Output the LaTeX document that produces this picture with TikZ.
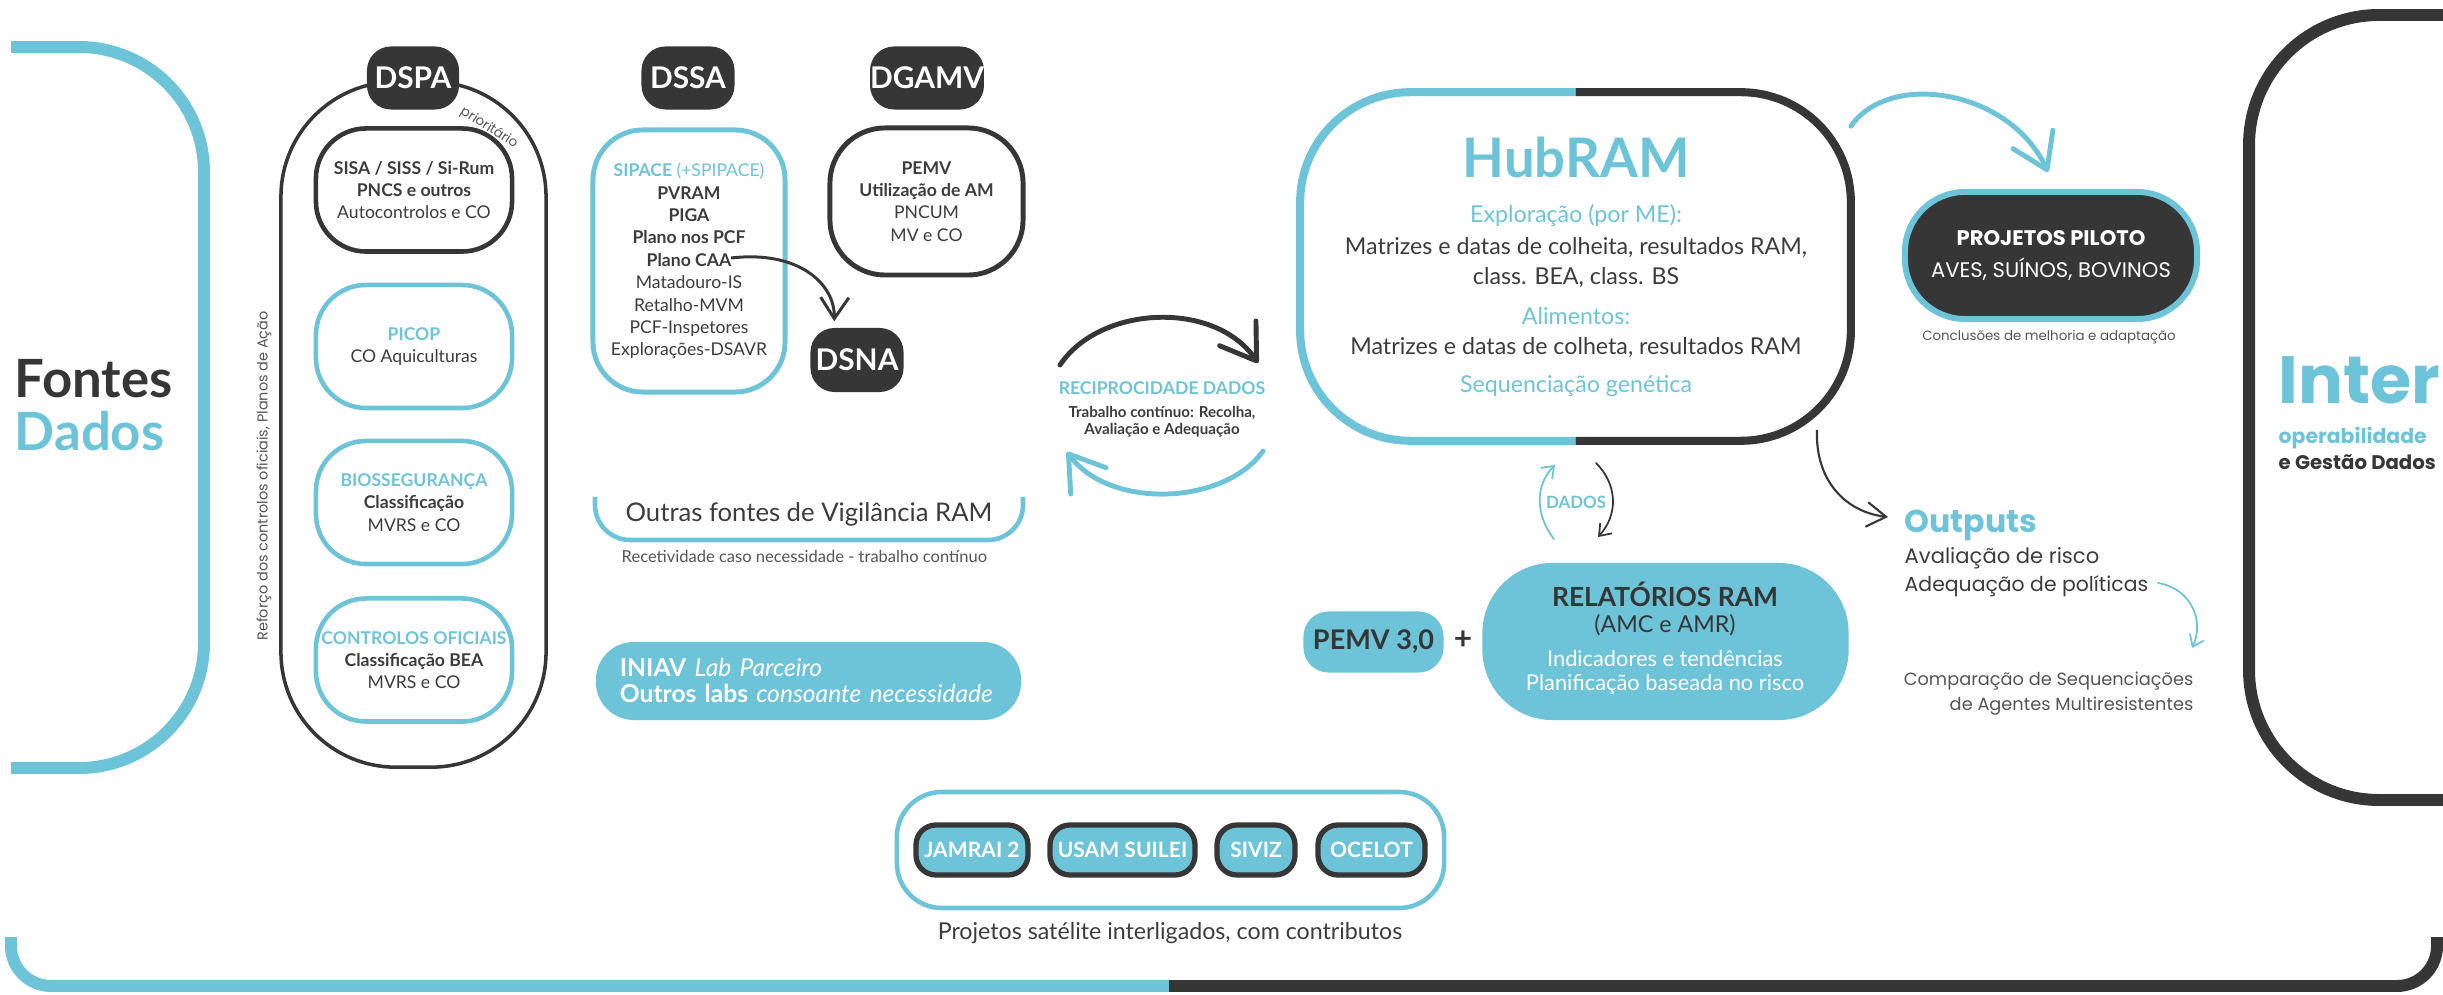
\documentclass[tikz,border=0pt]{standalone}
\usepackage{fontspec}
\setmainfont{Lato}
\newfontfamily\popfont{Poppins}
\usetikzlibrary{arrows.meta}

\definecolor{ramblue}{HTML}{6DC4D8}
\definecolor{ramdark}{HTML}{363636}
\definecolor{ramtext}{HTML}{3C3C3C}
\definecolor{ramgray}{HTML}{555555}

\newcommand\fsz[2]{\fontsize{#1}{#2}\selectfont}

\tikzset{
	headtag/.style={fill=ramdark, text=white, rounded corners=0.24cm, minimum height=0.63cm, inner sep=0pt, font=\bfseries\fsz{8.5}{10}},
	dspabox/.style={draw=ramdark, line width=1.3pt, rounded corners=0.5cm, minimum width=1.96cm, minimum height=1.23cm, inner sep=0pt, align=center, text=ramtext, font=\fsz{5}{6.3}},
	bluebox/.style={dspabox, draw=ramblue},
	pill/.style={fill=ramblue, draw=ramdark, line width=1.5pt, rounded corners=0.2cm, minimum height=0.5cm, inner sep=0pt, text=white, font=\bfseries\fsz{6}{7}},
	txt/.style={inner sep=0pt},
	bigarrow/.style={line width=1.4pt, line cap=round, -{Straight Barb[length=9.5pt,width=12.5pt,round]}},
	thinarrow/.style={line width=0.5pt, line cap=round, -{Straight Barb[length=3pt,width=4.5pt]}},
	framebar/.style={line width=3.4pt}
}

\begin{document}
\begin{tikzpicture}[x=0.01cm, y=-0.01cm]
		\useasboundingbox (0,0) rectangle (2443,995);
		
		%frames
		\draw[framebar, ramblue, rounded corners=1.25cm] (11,47) -- (204,47) -- (204,768) -- (11,768);
		\draw[framebar, ramdark, rounded corners=1.3cm] (2443,15) -- (2249,15) -- (2249,800) -- (2443,800);
		\draw[framebar, ramblue, rounded corners=0.4cm] (11,937) -- (11,986) -- (1170,986);
		\draw[framebar, ramdark, rounded corners=0.4cm] (1169,986) -- (2437,986) -- (2437,937);
		
		\node[txt, anchor=base west, text=ramdark, font=\bfseries\fsz{15}{16}] (fontes) at (14,398) {Fontes};
		\node[txt, anchor=base west, text=ramblue, font=\bfseries\fsz{15}{16}] (dados) at (14,451) {Dados};
		
		%dspa
		\node[draw=ramdark, line width=1pt, rounded corners=1.15cm, minimum width=2.65cm, minimum height=6.85cm] (dspabox) at (413.5,424.5) {};
		\node[headtag, minimum width=0.92cm] (dspa) at (413,78) {DSPA};
		\node[txt, rotate=-32, text=ramgray, font=\popfont\fsz{3.8}{4}] (prio) at (489,128) {prioritário};
		\node[dspabox] (sisa) at (414,190) {\textbf{SISA / SISS / Si-Rum}\\\textbf{PNCS e outros}\\Autocontrolos e CO};
		\node[bluebox] (picop) at (414,346.5) {\textcolor{ramblue}{\textbf{PICOP}}\\CO Aquiculturas};
		\node[bluebox] (bio) at (414,502.5) {\textcolor{ramblue}{\textbf{BIOSSEGURANÇA}}\\\textbf{Classificação}\\MVRS e CO};
		\node[bluebox] (co) at (414,660) {\textcolor{ramblue}{\textbf{CONTROLOS OFICIAIS}}\\\textbf{Classificação BEA}\\MVRS e CO};
		\node[txt, rotate=90, text=ramgray, font=\popfont\fsz{4.1}{5}] (reforco) at (264,476) {Reforço dos controlos oficiais, Planos de Ação};
		
		%dssa and dgamv
		\node[headtag, minimum width=0.93cm] (dssa) at (688,78) {DSSA};
		\node[bluebox, line width=1.4pt, minimum width=1.92cm, minimum height=2.62cm, font=\fsz{5}{6.37}] (sipace) at (689,261) {\textcolor{ramblue}{\textbf{SIPACE} (+SPIPACE)}\\\textbf{PVRAM}\\\textbf{PIGA}\\\textbf{Plano nos PCF}\\\textbf{Plano CAA}\\Matadouro-IS\\Retalho-MVM\\PCF-Inspetores\\Explorações-DSAVR};
		\node[headtag, minimum width=1.13cm] (dgamv) at (927,78) {DGAMV};
		\node[dspabox, line width=1.4pt, minimum width=1.93cm, minimum height=1.47cm, rounded corners=0.55cm, font=\fsz{5}{6.35}] (pemv) at (926.5,201.5) {\textbf{PEMV}\\\textbf{Utilização de AM}\\PNCUM\\MV e CO};
		\node[headtag, minimum width=0.93cm, minimum height=0.64cm] (dsna) at (857,360) {DSNA};
		\coordinate (caa) at (731,258);
		\draw[ramdark, line width=0.85pt, shorten >=0.06cm, -{Straight Barb[length=6pt,width=8pt]}] (caa) .. controls (800,250) and (835,285) .. (dsna.125);
		
		%other sources
		\draw[ramblue, line width=1.3pt, rounded corners=0.35cm] (595,497) -- (595,540) -- (1023,540) -- (1023,497);
		\node[txt, anchor=base, text=ramtext, font=\fsz{7.3}{8}] (outras) at (809,522) {Outras fontes de Vigilância RAM};
		\node[txt, anchor=base west, text=ramgray, font=\fsz{4.7}{5}] (recet) at (621,563) {Recetividade caso necessidade - trabalho contínuo};
		\node[fill=ramblue, rounded corners=0.38cm, minimum width=4.25cm, minimum height=0.78cm, text width=3.77cm, align=left, inner xsep=0.24cm, inner ysep=0pt, text=white, font=\fsz{7}{7.4}] (iniav) at (808.5,681) {\textbf{INIAV} \textit{Lab Parceiro}\\\textbf{Outros labs} \textit{consoante necessidade}};
		
		%reciprocity
		\node[txt, text=ramblue, font=\bfseries\fsz{5}{6}] (recip) at (1162,388) {RECIPROCIDADE DADOS};
		\node[txt, align=center, text=ramtext, font=\bfseries\fsz{4.3}{4.84}] (recipsub) at (1162,421.5) {Trabalho contínuo: Recolha,\\Avaliação e Adequação};
		\coordinate (rec1) at (1060,365);
		\coordinate (rec2) at (1258,363);
		\coordinate (rec3) at (1263,451);
		\coordinate (rec4) at (1067,452);
		\draw[ramdark, bigarrow] (rec1) .. controls (1100,305) and (1215,300) .. (rec2);
		\draw[ramblue, bigarrow] (rec3) .. controls (1225,505) and (1110,510) .. (rec4);
		
		%hub
		\node[minimum width=5.49cm, minimum height=3.47cm, inner sep=0pt] (hub) at (1575.5,266.5) {};
		\draw[ramblue, line width=2.3pt, rounded corners=1.1cm] (hub.north) -- (hub.north west) -- (hub.south west) -- (hub.south);
		\draw[ramdark, line width=2.3pt, rounded corners=1.1cm] (hub.north) -- (hub.north east) -- (hub.south east) -- (hub.south);
		\node[txt, anchor=base, text=ramblue, font=\bfseries\fsz{15.5}{16}] (hubtitle) at (1576,178) {HubRAM};
		\node[txt, anchor=base, text=ramblue, font=\fsz{6.6}{7}] (hubexp) at (1576,223) {Exploração (por ME):};
		\node[txt, align=center, text=ramtext, font=\fsz{6.6}{8.5}] (hubmat) at (1576,262.5) {Matrizes e datas de colheita, resultados RAM,\\class. BEA, class. BS};
		\node[txt, anchor=base, text=ramblue, font=\fsz{6.6}{7}] (hubali) at (1576,325) {Alimentos:};
		\node[txt, anchor=base, text=ramtext, font=\fsz{6.6}{7}] (hubmatb) at (1576,355) {Matrizes e datas de colheta, resultados RAM};
		\node[txt, anchor=base, text=ramblue, font=\fsz{6.6}{7}] (hubseq) at (1576,393) {Sequenciação genética};
		
		%pilots
		\node[fill=ramdark, draw=ramblue, line width=1.7pt, rounded corners=0.6cm, minimum width=2.92cm, minimum height=1.27cm, inner sep=0pt, align=center, text=white, font=\popfont\fsz{6}{9}] (proj) at (2051,255.5) {\textbf{PROJETOS PILOTO}\\AVES, SUÍNOS, BOVINOS};
		\node[txt, text=ramgray, font=\popfont\fsz{3.8}{4}] (concl) at (2049,337) {Conclusões de melhoria e adaptação};
		\coordinate (projin) at (2048,172);
		\draw[ramblue, bigarrow] (hub.27) .. controls (1890,70) and (2010,90) .. (projin);
		
		%outputs
		\node[txt, anchor=base west, text=ramblue, font=\popfont\bfseries\fsz{9}{10}] (outputs) at (1904,533) {Outputs};
		\node[txt, anchor=base west, text=ramtext, font=\popfont\fsz{6}{7}] (aval) at (1904,564) {Avaliação de risco};
		\node[txt, anchor=base west, text=ramtext, font=\popfont\fsz{5.8}{7}] (adeq) at (1904,592) {Adequação de políticas};
		\node[txt, anchor=base east, text=ramgray, font=\popfont\fsz{5.05}{6}] (cmpa) at (2194,686) {Comparação de Sequenciações};
		\node[txt, anchor=base east, text=ramgray, font=\popfont\fsz{5.05}{6}] (cmpb) at (2194,711) {de Agentes Multiresistentes};
		\coordinate (hubout) at (1817,430);
		\coordinate (outin) at (1888,517);
		\draw[ramdark, line width=0.6pt, -{Straight Barb[length=5.5pt,width=7pt]}] (hubout) .. controls (1815,480) and (1845,512) .. (outin);
		\coordinate (adeqout) at (2158,583);
		\coordinate (cmpin) at (2192,648);
		\draw[ramblue, thinarrow] (adeqout) .. controls (2190,588) and (2205,620) .. (cmpin);
		
		%inter
		\node[txt, anchor=base west, text=ramblue, font=\popfont\bfseries\fsz{19}{20}] (inter) at (2278,404) {Inter};
		\node[txt, anchor=base west, text=ramblue, font=\popfont\bfseries\fsz{5.8}{6}] (operab) at (2278,444) {operabilidade};
		\node[txt, anchor=base west, text=ramdark, font=\popfont\bfseries\fsz{5.6}{6}] (gestao) at (2278,470) {e Gestão Dados};
		
		%data loop and reports
		\node[txt, text=ramblue, font=\bfseries\fsz{4.8}{5}] (dadoslbl) at (1576,502) {DADOS};
		\coordinate (dup0) at (1554,539);
		\coordinate (dup1) at (1555,465);
		\coordinate (ddn0) at (1596,463);
		\coordinate (ddn1) at (1598,537);
		\draw[ramblue, thinarrow] (dup0) .. controls (1535,515) and (1535,485) .. (dup1);
		\draw[ramdark, thinarrow] (ddn0) .. controls (1618,485) and (1618,515) .. (ddn1);
		\node[fill=ramblue, rounded corners=0.25cm, minimum width=1.4cm, minimum height=0.61cm, inner sep=0pt, text=ramdark, font=\bfseries\fsz{7.7}{8}] (pemvtres) at (1373.5,642) {PEMV 3,0};
		\node[txt, text=ramdark, font=\bfseries\fsz{9}{9}] (plus) at (1463,640) {+};
		\node[fill=ramblue, rounded corners=0.7cm, minimum width=3.66cm, minimum height=1.57cm, inner sep=0pt] (rel) at (1665.5,641.5) {};
		\node[txt, anchor=base, text=ramdark, font=\bfseries\fsz{7.5}{8}] (reltitle) at (1665,607) {RELATÓRIOS RAM};
		\node[txt, anchor=base, text=ramdark, font=\fsz{6.6}{7}] (relsub) at (1665,633) {(AMC e AMR)};
		\node[txt, anchor=base, text=white, font=\fsz{6.2}{7}] (relind) at (1665,667) {Indicadores e tendências};
		\node[txt, anchor=base, text=white, font=\fsz{6.2}{7}] (relplan) at (1665,691) {Planificação baseada no risco};
		
		%satellite projects
		\node[draw=ramblue, line width=1.3pt, rounded corners=0.45cm, minimum width=5.47cm, minimum height=1.16cm] (sat) at (1170.5,850) {};
		\node[pill, minimum width=1.12cm] (jamrai) at (972,850) {JAMRAI 2};
		\node[pill, minimum width=1.45cm] (usam) at (1122.5,850) {USAM SUILEI};
		\node[pill, minimum width=0.78cm] (siviz) at (1256,850) {SIVIZ};
		\node[pill, minimum width=1.07cm] (ocelot) at (1371.5,850) {OCELOT};
		\node[txt, text=ramtext, font=\fsz{6.6}{7}] (satcap) at (1170,933) {Projetos satélite interligados, com contributos};
\end{tikzpicture}
\end{document}
